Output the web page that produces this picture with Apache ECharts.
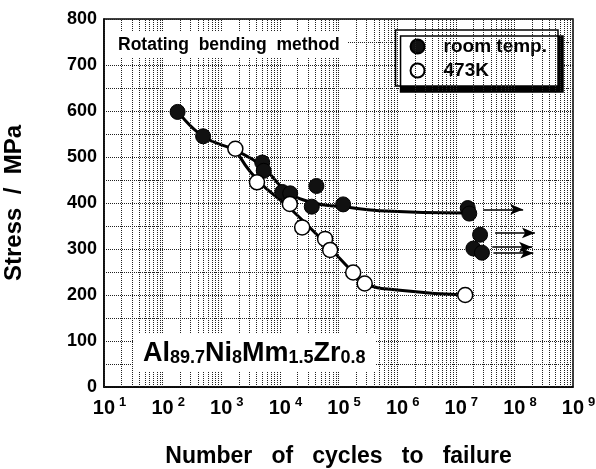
<!DOCTYPE html>
<html>
<head>
<meta charset="utf-8">
<script src="https://cdn.jsdelivr.net/npm/echarts@6/dist/echarts.min.js"></script>
<style>
  html, body { margin: 0; padding: 0; background: #fff; }
  #chart { width: 596px; height: 469px; }
</style>
</head>
<body>
<div id="chart"></div>
<script>
// measured points: [cycles, stress MPa]
const roomTempPoints = [
  [180, 598], [490, 545], [5000, 488], [5300, 470], [11000, 424], [15000, 421],
  [42000, 437], [35000, 392], [120000, 397], [1.6e7, 389], [1.7e7, 377],
  [2.6e7, 331], [2.0e7, 301], [2.8e7, 292]
]
const hotPoints = [
  [1740, 518], [4070, 445], [14800, 398], [24000, 347], [59000, 322],
  [72000, 298], [178000, 249], [280000, 225], [1.45e7, 200]
]
// fitted curves as drawn in the figure
const roomTempCurve = [
  [180, 600], [490, 545], [1700, 515], [5000, 480], [12000, 430],
  [35000, 401], [120000, 392], [500000, 383], [1.5e7, 378]
]
const hotCurve = [
  [1740, 518], [4000, 452], [15000, 388], [60000, 312], [178000, 249],
  [280000, 225], [1e6, 211], [1.5e7, 200]
]
// run-outs (arrows): [fromCycles, toCycles, stress]
const runOuts = [
  [2.95e7, 1.41e8, 386], [4.7e7, 2.24e8, 335], [4.2e7, 2.0e8, 304], [4.4e7, 2.1e8, 291]
]
const decades = [1, 2, 3, 4, 5, 6, 7, 8]
const minorFactors = [2, 3, 4, 5, 6, 7, 8, 9]

const FONT = "'Liberation Sans', Arial, Helvetica, sans-serif"
const chart = echarts.init(document.getElementById('chart'))

// vertical log grid lines (decade and 2..9 subdivisions)
const gridX = []
decades.forEach(d => {
  gridX.push({ xAxis: Math.pow(10, d) })
  minorFactors.forEach(k => gridX.push({ xAxis: k * Math.pow(10, d) }))
})

const option = {
  backgroundColor: '#fff',
  animation: false,
  grid: {
    left: 104, right: 23, top: 19, bottom: 82,
    outerBoundsMode: 'none', containLabel: false,
    show: true, borderColor: '#000', borderWidth: 1.5
  },
  legend: {
    orient: 'vertical',
    right: 38, top: 30,
    data: ['room temp.', '473K'],
    icon: 'circle',
    itemWidth: 14, itemHeight: 14, itemGap: 5,
    padding: [7, 11, 6, 14],
    backgroundColor: '#fff',
    borderColor: '#000', borderWidth: 1.5,
    shadowColor: '#000', shadowBlur: 0, shadowOffsetX: 5, shadowOffsetY: 6,
    textStyle: { fontFamily: FONT, fontWeight: 'bold', fontSize: 19, color: '#000', padding: [0, 0, 0, 14] }
  },
  xAxis: {
    type: 'log', logBase: 10, min: 10, max: 1e9,
    name: 'Number   of   cycles   to   failure',
    nameLocation: 'middle', nameGap: 58,
    nameTextStyle: { fontFamily: FONT, fontWeight: 'bold', fontSize: 23, color: '#000' },
    axisLine: { lineStyle: { color: '#000', width: 1.5 } },
    axisTick: { show: false },
    splitLine: { show: false },
    axisLabel: {
      margin: 9,
      formatter: v => '{b|10}{s|' + Math.round(Math.log10(v)) + '}',
      rich: {
        b: { fontFamily: FONT, fontWeight: 'bold', fontSize: 20, color: '#000', padding: [0, 0, 0, 11] },
        s: { fontFamily: FONT, fontWeight: 'bold', fontSize: 13, color: '#000', padding: [0, 0, 12, 4] }
      }
    }
  },
  yAxis: {
    type: 'value', min: 0, max: 800, interval: 50,
    name: 'Stress  /  MPa',
    nameLocation: 'middle', nameGap: 78, nameRotate: 90,
    nameTextStyle: { fontFamily: FONT, fontWeight: 'bold', fontSize: 24, color: '#000' },
    axisLine: { show: true, lineStyle: { color: '#000', width: 1.5 } },
    axisTick: { show: false },
    splitLine: { show: true, lineStyle: { color: '#222', type: 'dotted', width: 1 } },
    axisLabel: {
      margin: 7,
      fontFamily: FONT, fontWeight: 'bold', fontSize: 18, color: '#000',
      formatter: v => (v % 100 === 0 ? String(v) : '')
    }
  },
  series: [
    {
      type: 'line', data: [], silent: true,
      markLine: {
        silent: true, symbol: ['none', 'none'], label: { show: false },
        lineStyle: { color: '#222', type: 'dotted', width: 1 },
        data: gridX
      }
    },
    {
      type: 'line', data: roomTempCurve, smooth: true, symbol: 'none', z: 3,
      lineStyle: { color: '#000', width: 3 }
    },
    {
      type: 'line', data: hotCurve, smooth: true, symbol: 'none', z: 3,
      lineStyle: { color: '#000', width: 3 }
    },
    {
      name: 'room temp.', type: 'scatter', data: roomTempPoints, z: 5,
      symbol: 'circle', symbolSize: 15,
      itemStyle: { color: '#111', borderColor: '#000', borderWidth: 1, opacity: 1 },
      markLine: {
        silent: true, symbol: ['none', 'arrow'], symbolSize: [8, 13],
        label: { show: false },
        lineStyle: { color: '#000', type: 'solid', width: 1.5 },
        data: runOuts.map(r => [{ coord: [r[0], r[2]] }, { coord: [r[1], r[2]] }])
      }
    },
    {
      name: '473K', type: 'scatter', data: hotPoints, z: 6,
      symbol: 'circle', symbolSize: 15,
      itemStyle: { color: '#fff', borderColor: '#000', borderWidth: 1.5, opacity: 1 }
    }
  ],
  graphic: [
    {
      type: 'text', left: 106, top: 32, z: 100,
      style: {
        text: 'Rotating  bending  method',
        font: 'bold 17.5px ' + FONT, fill: '#000',
        backgroundColor: '#fff', padding: [4, 8, 4, 12]
      }
    },
    {
      type: 'text', left: 133, top: 334, z: 100,
      style: {
        text: '{b|Al}{s|89.7}{b|Ni}{s|8}{b|Mm}{s|1.5}{b|Zr}{s|0.8}',
        backgroundColor: '#fff', padding: [5, 10, 5, 10],
        rich: {
          b: { font: 'bold 27px ' + FONT, fill: '#000', verticalAlign: 'bottom', lineHeight: 28 },
          s: { font: 'bold 18px ' + FONT, fill: '#000', verticalAlign: 'bottom', lineHeight: 28 }
        }
      }
    }
  ]
}

chart.setOption(option)
</script>
</body>
</html>
